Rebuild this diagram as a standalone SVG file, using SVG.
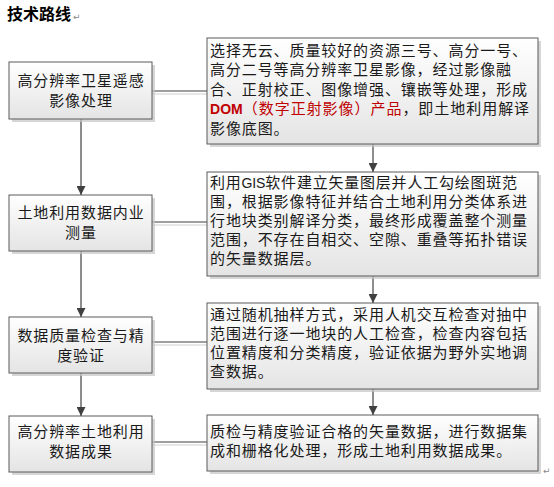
<svg xmlns="http://www.w3.org/2000/svg" width="554" height="487" viewBox="0 0 554 487">
<defs>
<linearGradient id="g" x1="0" y1="0" x2="0" y2="1">
<stop offset="0" stop-color="#ffffff"/>
<stop offset="1" stop-color="#e4e4e4"/>
</linearGradient>
<marker id="ah" markerUnits="userSpaceOnUse" markerWidth="10" markerHeight="9" refX="9" refY="4.5" orient="auto">
<path d="M0,0 L9,4.5 L0,9 Z" fill="#404040"/>
</marker>
<style>
.box{fill:url(#g);stroke:#5a5a5a;stroke-width:1}
.sh{fill:#c4c4c4;opacity:0.7}
.t{font-family:"Noto Sans CJK SC","Noto Sans",sans-serif;font-size:15px;fill:#1a1a1a;letter-spacing:0.9px}
.c{text-anchor:middle}
.con{stroke:#404040;stroke-width:1.2;fill:none}
.cs{stroke:#cfcfcf;stroke-width:1;fill:none}
.red{fill:#c00000}
.lat{font-family:"Liberation Sans",Arial,sans-serif;letter-spacing:0}
.pm{font-family:"DejaVu Sans",sans-serif;font-size:9px;fill:#888}
</style>
</defs>
<rect width="554" height="487" fill="#ffffff"/>
<text x="7" y="20" style="font-family:'Noto Sans CJK SC',sans-serif;font-size:16px;font-weight:bold;fill:#000">技术路线</text>
<text x="73" y="20" class="pm">↵</text>
<g id="connectors">
<line class="cs" x1="152" y1="94" x2="207" y2="94"/>
<line class="cs" x1="152" y1="225" x2="207" y2="225"/>
<line class="cs" x1="152" y1="345" x2="207" y2="345"/>
<line class="cs" x1="152" y1="445" x2="207" y2="445"/>
<line class="con" x1="152" y1="91" x2="207" y2="91"/>
<line class="con" x1="152" y1="222" x2="207" y2="222"/>
<line class="con" x1="152" y1="342" x2="207" y2="342"/>
<line class="con" x1="152" y1="442" x2="207" y2="442"/>
<line class="con" x1="81" y1="119" x2="81" y2="195" marker-end="url(#ah)"/>
<line class="con" x1="81" y1="251" x2="81" y2="317" marker-end="url(#ah)"/>
<line class="con" x1="81" y1="373" x2="81" y2="416" marker-end="url(#ah)"/>
<line class="con" x1="373" y1="144" x2="373" y2="172" marker-end="url(#ah)"/>
<line class="con" x1="373" y1="276" x2="373" y2="303" marker-end="url(#ah)"/>
<line class="con" x1="373" y1="389" x2="373" y2="415" marker-end="url(#ah)"/>
</g>
<g id="n1">
<rect class="sh" x="12" y="65" width="143" height="57"/>
<rect class="box" x="9" y="62" width="143" height="57"/>
<text class="t c" x="81" y="85.5">高分辨率卫星遥感</text>
<text class="t c" x="81" y="106">影像处理</text>
</g>
<g id="n2">
<rect class="sh" x="12" y="198" width="143" height="56"/>
<rect class="box" x="9" y="195" width="143" height="56"/>
<text class="t c" x="81" y="217.5">土地利用数据内业</text>
<text class="t c" x="81" y="237.5">测量</text>
</g>
<g id="n3">
<rect class="sh" x="12" y="320" width="143" height="56"/>
<rect class="box" x="9" y="317" width="143" height="56"/>
<text class="t c" x="81" y="340.5">数据质量检查与精</text>
<text class="t c" x="81" y="360.5">度验证</text>
</g>
<g id="n4">
<rect class="sh" x="12" y="419" width="143" height="56"/>
<rect class="box" x="9" y="416" width="143" height="56"/>
<text class="t c" x="81" y="437">高分辨率土地利用</text>
<text class="t c" x="81" y="457">数据成果</text>
</g>
<g id="r1">
<rect class="sh" x="210" y="41" width="331" height="106"/>
<rect class="box" x="207" y="38" width="331" height="106"/>
<text class="t" x="210" y="55.5" textLength="318" lengthAdjust="spacing">选择无云、质量较好的资源三号、高分一号、</text>
<text class="t" x="210" y="75" textLength="302" lengthAdjust="spacing">高分二号等高分辨率卫星影像，经过影像融</text>
<text class="t" x="210" y="94.5" textLength="318" lengthAdjust="spacing">合、正射校正、图像增强、镶嵌等处理，形成</text>
<text class="t" x="210" y="114" textLength="320" lengthAdjust="spacing"><tspan class="red lat" style="font-weight:bold;font-size:14px">DOM</tspan><tspan class="red">（数字正射影像）产品</tspan>，即土地利用解译</text>
<text class="t" x="210" y="133.5">影像底图。</text>
</g>
<g id="r2">
<rect class="sh" x="210" y="175" width="331" height="104"/>
<rect class="box" x="207" y="172" width="331" height="104"/>
<text class="t" x="210" y="188" textLength="308" lengthAdjust="spacing">利用<tspan class="lat" style="font-size:14px">GIS</tspan>软件建立矢量图层并人工勾绘图斑范</text>
<text class="t" x="210" y="207" textLength="318" lengthAdjust="spacing">围，根据影像特征并结合土地利用分类体系进</text>
<text class="t" x="210" y="226" textLength="318" lengthAdjust="spacing">行地块类别解译分类，最终形成覆盖整个测量</text>
<text class="t" x="210" y="245" textLength="318" lengthAdjust="spacing">范围，不存在自相交、空隙、重叠等拓扑错误</text>
<text class="t" x="210" y="264">的矢量数据层。</text>
</g>
<g id="r3">
<rect class="sh" x="210" y="306" width="331" height="86"/>
<rect class="box" x="207" y="303" width="331" height="86"/>
<text class="t" x="210" y="320" textLength="318" lengthAdjust="spacing">通过随机抽样方式，采用人机交互检查对抽中</text>
<text class="t" x="210" y="339" textLength="318" lengthAdjust="spacing">范围进行逐一地块的人工检查，检查内容包括</text>
<text class="t" x="210" y="358" textLength="318" lengthAdjust="spacing">位置精度和分类精度，验证依据为野外实地调</text>
<text class="t" x="210" y="377">查数据。</text>
</g>
<g id="r4">
<rect class="sh" x="210" y="418" width="331" height="56"/>
<rect class="box" x="207" y="415" width="331" height="56"/>
<text class="t" x="210" y="437" textLength="318" lengthAdjust="spacing">质检与精度验证合格的矢量数据，进行数据集</text>
<text class="t" x="210" y="456">成和栅格化处理，形成土地利用数据成果。</text>
</g>
<text x="543" y="474" class="pm">↵</text>
</svg>
